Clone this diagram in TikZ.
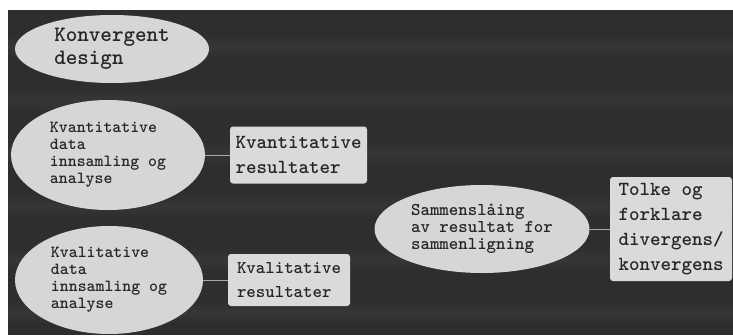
\documentclass[tikz,border=0pt]{standalone}
\usepackage{xcolor}
\usepackage{tikz}
\usetikzlibrary{shapes, positioning, calc}

\definecolor{bgdark}{HTML}{2E2E2E}
\definecolor{bgband}{HTML}{363636}
\definecolor{boxfill}{HTML}{DADADA}
\definecolor{ellfill}{HTML}{D6D6D6}
\definecolor{inkgray}{HTML}{262626}
\definecolor{linkgray}{HTML}{A8A8A8}

\tikzset{
  oval/.style={ellipse, fill=ellfill, inner sep=0pt, align=left, text=inkgray,
    font=\ttfamily\bfseries\fontsize{17}{17}\selectfont},
  result/.style={rectangle, rounded corners=3pt, fill=boxfill, inner sep=0pt, align=left,
    text=inkgray, font=\ttfamily\bfseries\fontsize{20}{25}\selectfont},
  link/.style={linkgray, line width=1pt}
}

\begin{document}
\begin{tikzpicture}[x=1pt, y=-1pt]
\useasboundingbox (0,0) rectangle (733,335);
\fill[bgdark] (8,10) rectangle (733,335);

% faint stripes
\foreach \y in {47, 100, 153, 206, 259, 312}
  \shade[top color=bgdark, bottom color=bgdark, middle color=bgband] (8,\y-12) rectangle (733,\y+12);

% title
\node[oval, minimum width=194pt, minimum height=68pt,
  font=\ttfamily\bfseries\fontsize{22}{23}\selectfont] (design) at (112,49) {Konvergent\\design};

% data collection
\node[oval, minimum width=194pt, minimum height=110pt] (kvant) at (108,155) {Kvantitative\\data\\innsamling og\\analyse};
\node[oval, minimum width=188pt, minimum height=108pt] (kval) at (109,280) {Kvalitative\\data\\innsamling og\\analyse};

% results
\node[result, minimum width=137pt, minimum height=57pt] (kvantres) at (298.5,155) {Kvantitative\\resultater};
\node[result, minimum width=122pt, minimum height=52pt,
  font=\ttfamily\bfseries\fontsize{18}{24}\selectfont] (kvalres) at (289,280) {Kvalitative\\resultater};

% merging
\node[oval, minimum width=215pt, minimum height=88pt,
  font=\ttfamily\bfseries\fontsize{18}{17}\selectfont] (merge) at (482,229) {Sammenslåing\\av resultat for\\sammenligning};
\node[result, minimum width=122pt, minimum height=104pt] (tolke) at (671,229) {Tolke og\\forklare\\divergens/\\konvergens};

\draw[link] (kvant) -- (kvantres);
\draw[link] (kval) -- (kvalres);
\draw[link] (merge) -- (tolke);
\end{tikzpicture}
\end{document}
